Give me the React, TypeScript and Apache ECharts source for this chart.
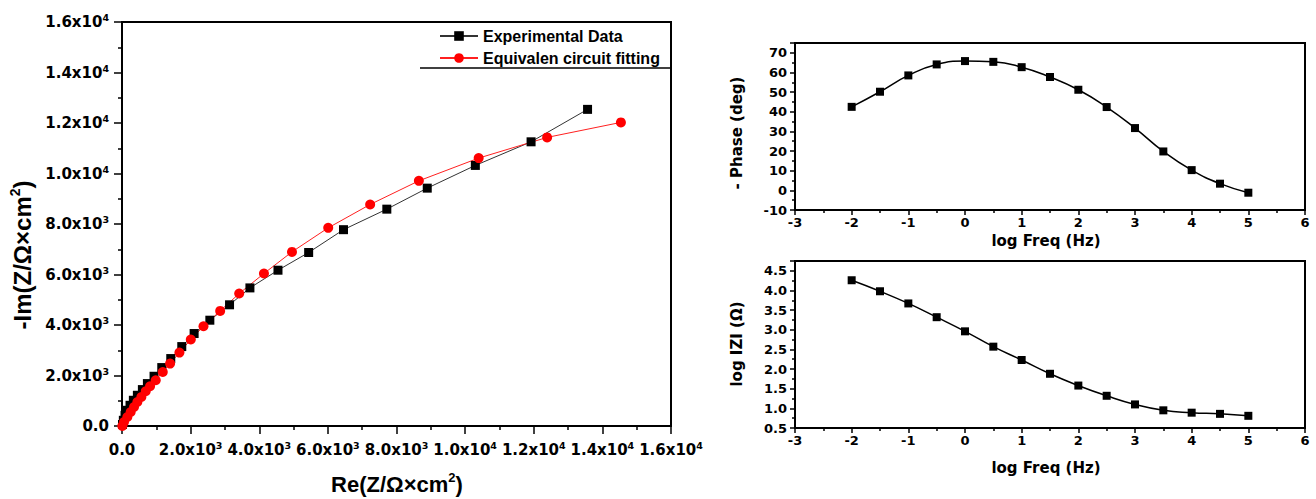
import React, { useEffect, useRef } from 'react';
import * as echarts from 'echarts';

// Nyquist plot – experimental data
const expRe = [15, 39, 88, 156, 234, 331, 448, 594, 740, 934, 1159, 1421, 1742, 2102, 2560, 3134, 3728, 4546, 5440, 6455, 7718, 8896, 10298, 11922, 13568];
const expIm = [60, 226, 424, 622, 820, 1019, 1217, 1442, 1680, 1970, 2314, 2671, 3145, 3662, 4190, 4800, 5469, 6170, 6872, 7775, 8588, 9420, 10320, 11255, 12540];
// Nyquist plot – equivalent circuit fitting
const fitRe = [10, 58, 156, 253, 350, 448, 565, 691, 818, 983, 1188, 1402, 1674, 2005, 2375, 2861, 3416, 4137, 4954, 6010, 7232, 8652, 10395, 12390, 14540];
const fitIm = [0, 159, 357, 555, 753, 951, 1149, 1375, 1573, 1811, 2140, 2473, 2909, 3424, 3951, 4558, 5247, 6040, 6896, 7848, 8774, 9710, 10610, 11430, 12024];
// Bode plots
const logFreq = [-2, -1.5, -1, -0.5, 0, 0.5, 1, 1.5, 2, 2.5, 3, 3.5, 4, 4.5, 5];
const phase = [42.5, 50.2, 58.5, 64.1, 65.8, 65.4, 62.7, 57.7, 51.2, 42.4, 31.7, 19.8, 10.3, 3.4, -1.2];
const logZ = [4.26, 3.98, 3.67, 3.32, 2.96, 2.57, 2.23, 1.88, 1.58, 1.32, 1.10, 0.95, 0.89, 0.86, 0.81];

const seriesNames = ['Experimental Data', 'Equivalen circuit fitting'];

const ARIAL = '"Liberation Sans", Arial, sans-serif';
const DEJAVU = '"DejaVu Sans", sans-serif';

const sciFormatter = (v: number) => {
  if (v === 0) return '{b|0.0}';
  const e = Math.floor(Math.log10(v) + 1e-9);
  const m = (v / Math.pow(10, e)).toFixed(1);
  return `{b|${m}x10}{s|${e}}`;
};

const sciRich = {
  b: { fontFamily: DEJAVU, fontWeight: 'bold', fontSize: 15, color: '#000', lineHeight: 19, verticalAlign: 'middle' },
  s: { fontFamily: DEJAVU, fontWeight: 'bold', fontSize: 9.5, color: '#000', lineHeight: 9, verticalAlign: 'top' },
};

const axisCommon = (lw: number) => ({
  axisLine: { show: true, onZero: false, lineStyle: { color: '#000', width: lw } },
  axisTick: { show: true, inside: false, length: 8, lineStyle: { color: '#000', width: 1.5 } },
  minorTick: { show: true, splitNumber: 2, length: 4, lineStyle: { color: '#000', width: 1.5 } },
  splitLine: { show: false },
  minorSplitLine: { show: false },
});

const rightTick = { show: true, length: 5, lineStyle: { color: '#000', width: 1.5 } };
const rightMinor = { show: true, splitNumber: 2, length: 3, lineStyle: { color: '#000', width: 1.5 } };
const rightLabel = { fontFamily: DEJAVU, fontWeight: 'bold' as const, fontSize: 13, color: '#000' };

export default function App() {
  const ref = useRef<HTMLDivElement>(null);
  useEffect(() => {
    if (!ref.current) return;
    const chart = echarts.init(ref.current, undefined, { renderer: 'svg' });
    const option: any = {
      animation: false,
      backgroundColor: '#fff',
      grid: [
        { left: 122, top: 22, width: 549, height: 404, show: true, borderColor: '#000', borderWidth: 2, backgroundColor: 'transparent' },
        { left: 795, top: 43, width: 510, height: 167, show: true, borderColor: '#000', borderWidth: 2, backgroundColor: 'transparent' },
        { left: 795, top: 261, width: 510, height: 167, show: true, borderColor: '#000', borderWidth: 2, backgroundColor: 'transparent' },
      ],
      xAxis: [
        {
          type: 'value', gridIndex: 0, min: 0, max: 16000, interval: 2000,
          ...axisCommon(2),
          axisLabel: { margin: 14, formatter: sciFormatter, rich: sciRich },
        },
        {
          type: 'value', gridIndex: 1, min: -3, max: 6, interval: 1,
          ...axisCommon(2),
          axisTick: rightTick, minorTick: rightMinor,
          axisLabel: { ...rightLabel, margin: 6 },
        },
        {
          type: 'value', gridIndex: 2, min: -3, max: 6, interval: 1,
          ...axisCommon(2),
          axisTick: rightTick, minorTick: rightMinor,
          axisLabel: { ...rightLabel, margin: 6 },
        },
      ],
      yAxis: [
        {
          type: 'value', gridIndex: 0, min: 0, max: 16000, interval: 2000,
          ...axisCommon(2),
          axisLabel: { margin: 13, formatter: sciFormatter, rich: sciRich },
        },
        {
          type: 'value', gridIndex: 1, min: -10, max: 75, interval: 10,
          ...axisCommon(2),
          axisTick: rightTick, minorTick: rightMinor,
          axisLabel: { ...rightLabel, margin: 8, showMaxLabel: false },
        },
        {
          type: 'value', gridIndex: 2, min: 0.5, max: 4.75, interval: 0.5,
          ...axisCommon(2),
          axisTick: rightTick, minorTick: rightMinor,
          axisLabel: { ...rightLabel, margin: 8, showMaxLabel: false, formatter: (v: number) => v.toFixed(1) },
        },
      ],
      legend: {
        data: seriesNames,
        orient: 'vertical',
        left: 434,
        top: 22,
        itemWidth: 38,
        itemHeight: 12,
        itemGap: 4,
        textStyle: { fontFamily: ARIAL, fontWeight: 'bold', fontSize: 16, color: '#000', lineHeight: 18 },
      },
      series: [
        {
          name: seriesNames[0], type: 'line', xAxisIndex: 0, yAxisIndex: 0,
          data: expRe.map((x, i) => [x, expIm[i]]),
          symbol: 'rect', symbolSize: 9,
          itemStyle: { color: '#000' },
          lineStyle: { color: '#333', width: 1 },
        },
        {
          name: seriesNames[1], type: 'line', xAxisIndex: 0, yAxisIndex: 0,
          data: fitRe.map((x, i) => [x, fitIm[i]]),
          symbol: 'circle', symbolSize: 10,
          itemStyle: { color: '#ff0000' },
          lineStyle: { color: '#ff2020', width: 1 },
        },
        {
          name: 'phase', type: 'line', xAxisIndex: 1, yAxisIndex: 1,
          data: logFreq.map((x, i) => [x, phase[i]]),
          smooth: 0.5, symbol: 'rect', symbolSize: 8,
          itemStyle: { color: '#000' },
          lineStyle: { color: '#000', width: 1.5 },
        },
        {
          name: 'logZ', type: 'line', xAxisIndex: 2, yAxisIndex: 2,
          data: logFreq.map((x, i) => [x, logZ[i]]),
          smooth: 0.5, symbol: 'rect', symbolSize: 8,
          itemStyle: { color: '#000' },
          lineStyle: { color: '#000', width: 1.5 },
        },
      ],
      graphic: [
        { type: 'line', shape: { x1: 420, y1: 68, x2: 671, y2: 68 }, style: { stroke: '#000', lineWidth: 1.5 } },
        {
          type: 'text', x: 397, y: 484,
          style: {
            text: '{a|Re(Z/Ω×cm}{s|2}{a|)}',
            align: 'center', verticalAlign: 'middle',
            rich: {
              a: { fontFamily: ARIAL, fontWeight: 'bold', fontSize: 22, fill: '#000', lineHeight: 26, verticalAlign: 'middle' },
              s: { fontFamily: ARIAL, fontWeight: 'bold', fontSize: 13, fill: '#000', lineHeight: 13, verticalAlign: 'top' },
            },
          },
        },
        {
          type: 'text', x: 22, y: 255, rotation: Math.PI / 2,
          style: {
            text: '{a|-Im(Z/Ω×cm}{s|2}{a|)}',
            align: 'center', verticalAlign: 'middle',
            rich: {
              a: { fontFamily: ARIAL, fontWeight: 'bold', fontSize: 24, fill: '#000', lineHeight: 28, verticalAlign: 'middle' },
              s: { fontFamily: ARIAL, fontWeight: 'bold', fontSize: 14, fill: '#000', lineHeight: 14, verticalAlign: 'top' },
            },
          },
        },
        {
          type: 'text', x: 1046, y: 241,
          style: { text: 'log Freq (Hz)', align: 'center', verticalAlign: 'middle', fontFamily: DEJAVU, fontWeight: 'bold', fontSize: 15, fill: '#000' },
        },
        {
          type: 'text', x: 1046, y: 468,
          style: { text: 'log Freq (Hz)', align: 'center', verticalAlign: 'middle', fontFamily: DEJAVU, fontWeight: 'bold', fontSize: 15, fill: '#000' },
        },
        {
          type: 'text', x: 737, y: 133, rotation: Math.PI / 2,
          style: { text: '- Phase (deg)', align: 'center', verticalAlign: 'middle', fontFamily: DEJAVU, fontWeight: 'bold', fontSize: 15, fill: '#000' },
        },
        {
          type: 'text', x: 737, y: 344, rotation: Math.PI / 2,
          style: { text: 'log IZI (Ω)', align: 'center', verticalAlign: 'middle', fontFamily: DEJAVU, fontWeight: 'bold', fontSize: 15, fill: '#000' },
        },
      ],
    };
    chart.setOption(option);
    return () => chart.dispose();
  }, []);
  return <div ref={ref} style={{ position: 'fixed', left: 0, top: 0, width: 1316, height: 499 }} />;
}
